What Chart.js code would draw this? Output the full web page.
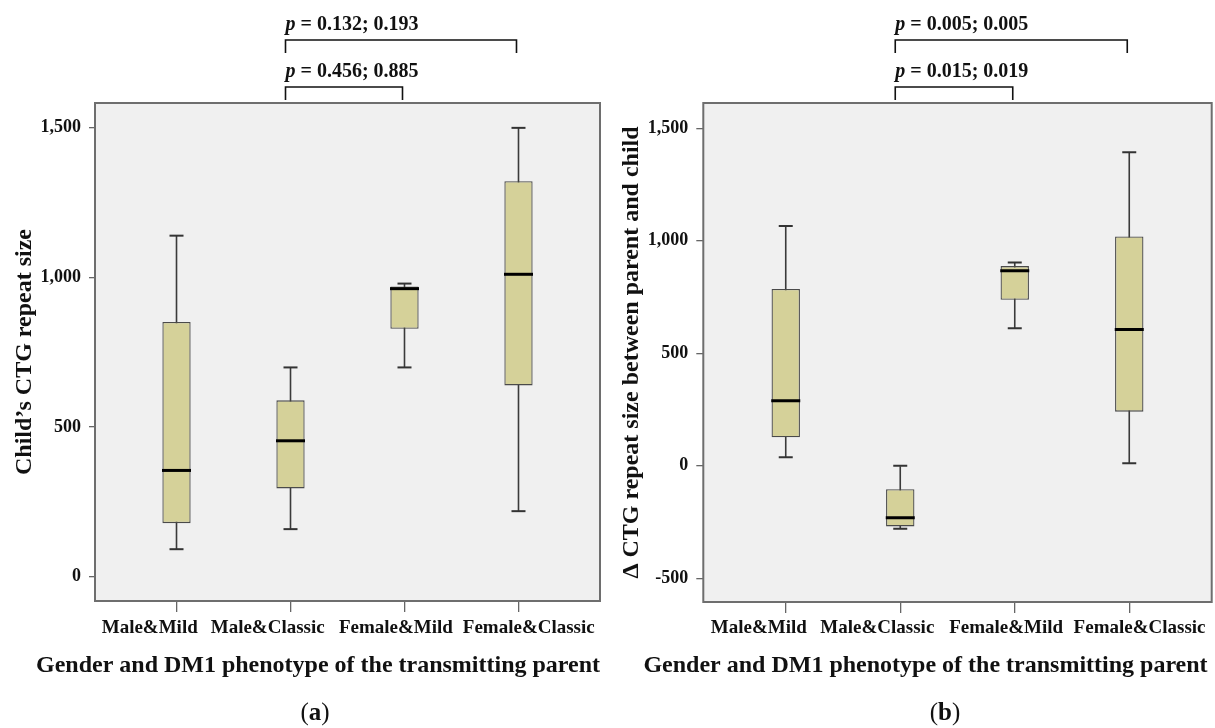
<!DOCTYPE html>
<html lang="en">
<head>
<meta charset="UTF-8">
<title>CTG repeat size by transmitting parent</title>
<script src="https://cdn.jsdelivr.net/npm/chart.js"></script>
<style>
    body { margin: 0; background: #fff; width: 1215px; height: 728px; overflow: hidden; position: relative; font-family: 'Liberation Serif', serif; }
    canvas { position: absolute; top: 0; }
    #grafA { left: 0; }
    #grafB { left: 607px; }
    .rotulo { position: absolute; top: 698px; font-size: 25px; line-height: 28px; color: #111; transform: translateX(-50%); }
</style>
</head>
<body>
<canvas id="grafA" width="607" height="728"></canvas>
<canvas id="grafB" width="608" height="728"></canvas>
<div class="rotulo" style="left:315px">(<b>a</b>)</div>
<div class="rotulo" style="left:945px">(<b>b</b>)</div>

<script>
// categorias (eixo x)
const categorias = ['Male&Mild', 'Male&Classic', 'Female&Mild', 'Female&Classic'];

// (a) Child's CTG repeat size: min, Q1, mediana, Q3, max
const childMin = [92, 159, 699, 219];
const childQ1 = [179, 295, 828, 639];
const childMediana = [355, 454, 962, 1010];
const childQ3 = [851, 589, 969, 1321];
const childMax = [1139, 699, 979, 1499];

// (b) Delta CTG repeat size between parent and child
const deltaMin = [37, -280, 611, 11];
const deltaQ1 = [126, -270, 737, 240];
const deltaMediana = [288, -231, 866, 605];
const deltaQ3 = [785, -105, 887, 1019];
const deltaMax = [1065, 0, 903, 1393];

// ticks do eixo y
const yTicksA = [0, 500, 1000, 1500];
const yTicksB = [-500, 0, 500, 1000, 1500];

// comparacoes com p-valor: [de, ate]
const paresA = [[1, 3], [1, 2]];
const textosA = ['0.132; 0.193', '0.456; 0.885'];
const paresB = [[1, 3], [1, 2]];
const textosB = ['0.005; 0.005', '0.015; 0.019'];

const fonte = 'Liberation Serif';
const corTexto = '#111';
// os rotulos do eixo x nao ficam exatamente sob os ticks na figura original
const deslocRotulo = [-0.235, -0.2, -0.075, 0.09];

function montarDatasets(mins, q1, med, q3, maxs) {
    return [
        {   // bigode (linha vertical min -> max)
            type: 'bar',
            data: mins.map((v, i) => ({ x: i, y: [v, maxs[i]] })),
            backgroundColor: '#3a3a3a',
            maxBarThickness: 1.6,
            grouped: false,
            order: 3
        },
        {   // caixa Q1 -> Q3
            type: 'bar',
            data: q1.map((v, i) => ({ x: i, y: [v, q3[i]] })),
            backgroundColor: '#d5d199',
            borderColor: '#4a4a4a',
            borderWidth: 1.3,
            borderSkipped: false,
            grouped: false,
            categoryPercentage: 1,
            barPercentage: 0.248,
            order: 2
        },
        {   // tracinhos do min e max
            type: 'scatter',
            data: mins.map((v, i) => ({ x: i, y: v })).concat(maxs.map((v, i) => ({ x: i, y: v }))),
            pointStyle: 'line',
            pointRadius: 7,
            pointBorderColor: '#333',
            pointBorderWidth: 2,
            order: 1
        },
        {   // mediana
            type: 'scatter',
            data: med.map((v, i) => ({ x: i, y: v })),
            pointStyle: 'line',
            pointRadius: 14.5,
            pointBorderColor: '#000',
            pointBorderWidth: 3,
            order: 0
        }
    ];
}

// fundo cinza + moldura da area do grafico
const moldura = {
    id: 'moldura',
    beforeDatasetsDraw(chart) {
        const { ctx, chartArea: a } = chart;
        ctx.save();
        ctx.fillStyle = '#f0f0f0';
        ctx.fillRect(a.left, a.top, a.width, a.height);
        ctx.strokeStyle = '#6e6e6e';
        ctx.lineWidth = 2;
        ctx.strokeRect(a.left, a.top, a.width, a.height);
        ctx.restore();
    }
};

// colchetes com p-valores acima do grafico
const pValores = {
    id: 'pValores',
    afterDraw(chart, args, opts) {
        const { ctx, chartArea: a, scales: { x } } = chart;
        ctx.save();
        ctx.strokeStyle = corTexto;
        ctx.fillStyle = corTexto;
        ctx.lineWidth = 1.6;
        ctx.textBaseline = 'middle';
        ctx.textAlign = 'left';
        opts.pares.forEach((par, k) => {
            const x1 = x.getPixelForValue(par[0]) - 5;
            const x2 = x.getPixelForValue(par[1]) - 2;
            const yLinha = a.top - opts.alturas[k];
            ctx.beginPath();
            ctx.moveTo(x1, yLinha + 13);
            ctx.lineTo(x1, yLinha);
            ctx.lineTo(x2, yLinha);
            ctx.lineTo(x2, yLinha + 13);
            ctx.stroke();

            const yTexto = yLinha - 15;
            ctx.font = `italic bold 20px "${fonte}"`;
            ctx.fillText('p', x1, yTexto);
            const w = ctx.measureText('p').width;
            ctx.font = `bold 20px "${fonte}"`;
            ctx.fillText(' = ' + opts.textos[k], x1 + w, yTexto);
        });
        ctx.restore();
    }
};

function montarGrafico(id, datasets, cfg) {
    const xMin = -cfg.margemX;
    const xMax = 3 + cfg.margemX;
    return new Chart(document.getElementById(id), {
        type: 'bar',
        data: { datasets: datasets },
        options: {
            responsive: false,
            animation: false,
            devicePixelRatio: 1,
            events: [],
            layout: { autoPadding: false, padding: { top: 103, left: cfg.padEsq, right: cfg.padDir, bottom: 47.6 } },
            plugins: {
                legend: { display: false },
                tooltip: { enabled: false },
                title: {
                    display: true,
                    position: 'bottom',
                    text: 'Gender and DM1 phenotype of the transmitting parent',
                    color: corTexto,
                    font: { family: fonte, size: 24, weight: 'bold' },
                    padding: { top: 3.6, bottom: 0 }
                },
                pValores: { pares: cfg.pares, textos: cfg.textos, alturas: [63, 16] }
            },
            scales: {
                x: {
                    type: 'linear', axis: 'x', position: 'bottom',
                    min: xMin, max: xMax, offset: false, bounds: 'data',
                    grid: { display: true, drawOnChartArea: false, drawTicks: true, tickLength: 11, color: '#666', lineWidth: 1.3, offset: false },
                    border: { display: false },
                    ticks: { display: false },
                    afterBuildTicks: s => { s.ticks = categorias.map((c, i) => ({ value: i })); },
                    afterFit: s => { s.height = 11; }
                },
                x2: {
                    type: 'linear', axis: 'x', position: 'bottom',
                    min: xMin, max: xMax, offset: false, bounds: 'data',
                    grid: { display: false, drawTicks: false, offset: false },
                    border: { display: false },
                    ticks: {
                        color: corTexto,
                        font: { family: fonte, size: 19, weight: 'bold' },
                        padding: cfg.padRotulos,
                        maxRotation: 0,
                        autoSkip: false,
                        callback: (v, i) => categorias[i]
                    },
                    afterBuildTicks: s => { s.ticks = categorias.map((c, i) => ({ value: i + deslocRotulo[i] })); },
                    afterFit: s => { s.height = cfg.altRotulos; }
                },
                y: {
                    type: 'linear', position: 'left',
                    min: cfg.yMin, max: cfg.yMax, bounds: 'data',
                    grid: { display: true, drawOnChartArea: false, drawTicks: true, tickLength: cfg.tickY, color: '#666', lineWidth: 1.3 },
                    border: { display: false },
                    ticks: {
                        color: corTexto,
                        font: { family: fonte, size: 18, weight: 'bold' },
                        padding: 8,
                        callback: v => v.toLocaleString('en-US')
                    },
                    afterBuildTicks: s => { s.ticks = cfg.yTicks.map(v => ({ value: v })); },
                    title: {
                        display: true,
                        text: cfg.tituloY,
                        color: corTexto,
                        font: { family: fonte, size: 24, weight: 'bold' },
                        padding: { top: cfg.padTituloY, bottom: 0 }
                    },
                    afterFit: s => { s.width = cfg.largY; }
                }
            }
        },
        plugins: [moldura, pValores]
    });
}

montarGrafico('grafA', montarDatasets(childMin, childQ1, childMediana, childQ3, childMax), {
    margemX: 0.715, padEsq: 36, padDir: 7, largY: 59, padTituloY: -25.4, tickY: 6,
    yMin: -81, yMax: 1582, yTicks: yTicksA, tituloY: "Child\u2019s CTG repeat size",
    padRotulos: 4.6, altRotulos: 36, pares: paresA, textos: textosA
});

montarGrafico('grafB', montarDatasets(deltaMin, deltaQ1, deltaMediana, deltaQ3, deltaMax), {
    margemX: 0.72, padEsq: 32.3, padDir: 3.3, largY: 64, padTituloY: -21.7, tickY: 7,
    yMin: -606, yMax: 1612, yTicks: yTicksB, tituloY: '\u0394 CTG repeat size between parent and child',
    padRotulos: 3.6, altRotulos: 35, pares: paresB, textos: textosB
});
</script>
</body>
</html>
